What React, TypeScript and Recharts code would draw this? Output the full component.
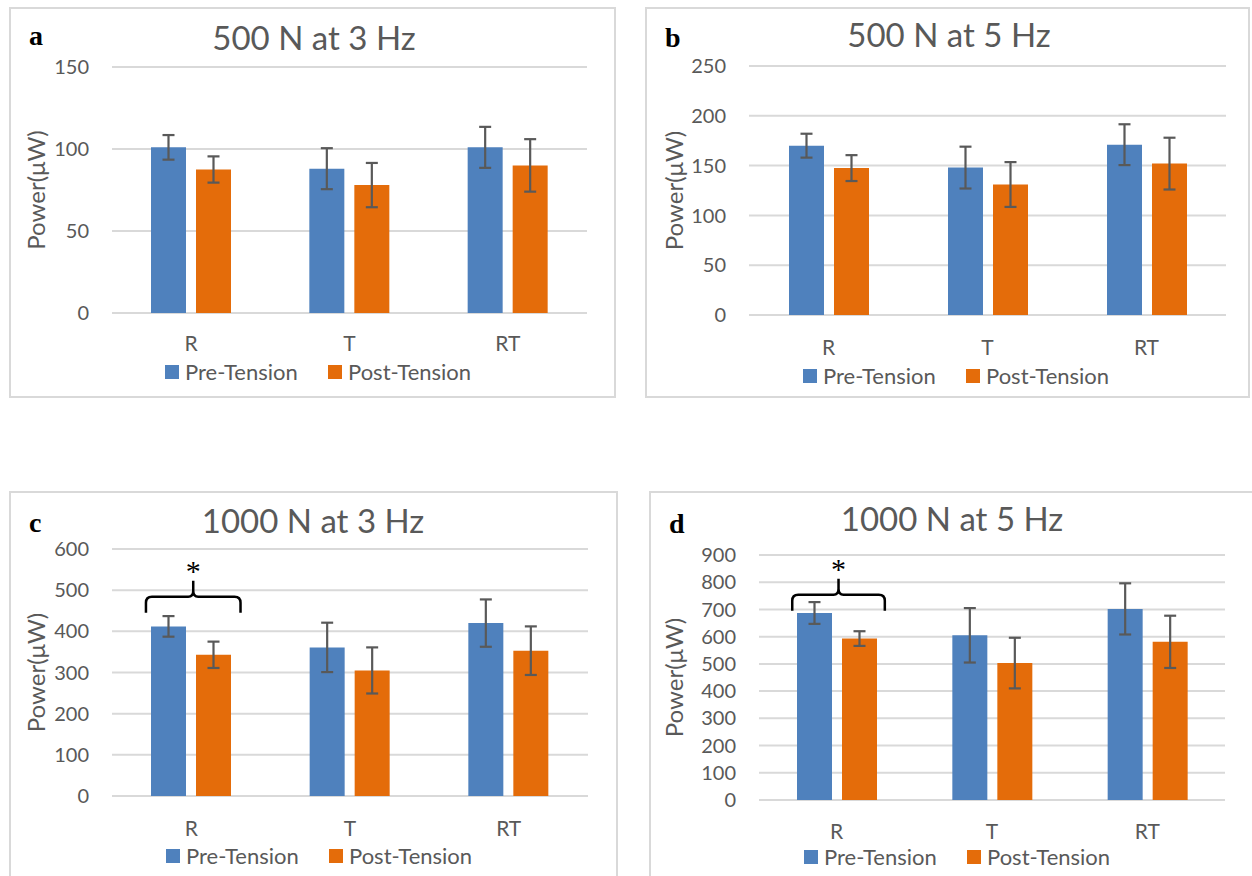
import React from "react";
import { BarChart, Bar, XAxis, YAxis, CartesianGrid, ErrorBar, ReferenceArea } from "recharts";

const categories = ["R", "T", "RT"];

// a: 500 N at 3 Hz
const preA = [101, 88, 101];
const preErrA = [7.5, 12.5, 12.5];
const postA = [87.5, 78, 90];
const postErrA = [8, 13.5, 16];
const ticksA = [0, 50, 100, 150];

// b: 500 N at 5 Hz
const preB = [170, 148, 171];
const preErrB = [12, 21, 20.5];
const postB = [147.5, 131, 152];
const postErrB = [13, 22.5, 26];
const ticksB = [0, 50, 100, 150, 200, 250];

// c: 1000 N at 3 Hz
const preC = [412, 361, 420];
const preErrC = [25, 60, 57.5];
const postC = [343, 305, 353];
const postErrC = [32, 56, 59];
const ticksC = [0, 100, 200, 300, 400, 500, 600];

// d: 1000 N at 5 Hz
const preD = [687, 605, 702];
const preErrD = [40, 100, 94];
const postD = [593, 503, 581];
const postErrD = [27, 93, 96];
const ticksD = [0, 100, 200, 300, 400, 500, 600, 700, 800, 900];

// significance bracket (R group), lower / upper in data units
const bracketC = [445, 484];
const bracketD = [695, 754];

const seriesNames = ["Pre-Tension", "Post-Tension"];

const BLUE = "#4f81bd";
const ORANGE = "#e46c0a";
const GREY = "#595959";
const GRID = "#d9d9d9";
const FONT = "Lato, 'Open Sans', sans-serif";

type Cfg = {
  letter: string;
  title: string;
  pre: number[]; preErr: number[]; post: number[]; postErr: number[];
  ticks: number[];
  frame: { x: number; y: number; w: number; h: number };
  plot: { l: number; r: number; t: number; b: number };
  titleX: number; titleY: number;
  letterX: number; letterY: number;
  ylabelX: number;
  xTickMargin: number;
  legendX: number; legendY: number;
  bracket?: number[];
};

const panels: Cfg[] = [
  {
    letter: "a", title: "500 N at 3 Hz",
    pre: preA, preErr: preErrA, post: postA, postErr: postErrA, ticks: ticksA,
    frame: { x: 9, y: 7, w: 607, h: 391 },
    plot: { l: 112, r: 587, t: 67, b: 313 },
    titleX: 314, titleY: 50, letterX: 29, letterY: 45, ylabelX: 35,
    xTickMargin: 23, legendX: 165, legendY: 372,
  },
  {
    letter: "b", title: "500 N at 5 Hz",
    pre: preB, preErr: preErrB, post: postB, postErr: postErrB, ticks: ticksB,
    frame: { x: 645, y: 7, w: 605, h: 391 },
    plot: { l: 749, r: 1226, t: 66, b: 315 },
    titleX: 949, titleY: 47, letterX: 665, letterY: 47, ylabelX: 673,
    xTickMargin: 25, legendX: 803, legendY: 376,
  },
  {
    letter: "c", title: "1000 N at 3 Hz",
    pre: preC, preErr: preErrC, post: postC, postErr: postErrC, ticks: ticksC,
    frame: { x: 9, y: 491, w: 609, h: 389 },
    plot: { l: 112, r: 588, t: 549, b: 796 },
    titleX: 313, titleY: 533, letterX: 29, letterY: 532, ylabelX: 35,
    xTickMargin: 25, legendX: 166, legendY: 856,
    bracket: bracketC,
  },
  {
    letter: "d", title: "1000 N at 5 Hz",
    pre: preD, preErr: preErrD, post: postD, postErr: postErrD, ticks: ticksD,
    frame: { x: 649, y: 491, w: 607, h: 389 },
    plot: { l: 759, r: 1225, t: 555, b: 800 },
    titleX: 952, titleY: 531, letterX: 669, letterY: 533, ylabelX: 673,
    xTickMargin: 24, legendX: 804, legendY: 857,
    bracket: bracketD,
  },
];

const Bracket = (props: any) => {
  const { x, y, width, height } = props;
  if (x == null || width == null) return null;
  const x1 = x + width * 0.214;
  const x2 = x + width * 0.81;
  const xm = (x1 + x2) / 2;
  const yt = y;
  const yb = y + height;
  const tip = yt - height;
  const r = 6;
  const d =
    `M${x1},${yb} L${x1},${yt + r} Q${x1},${yt} ${x1 + r},${yt} L${xm - 5},${yt} Q${xm},${yt} ${xm},${yt - 6} L${xm},${tip}` +
    ` M${xm},${yt - 6} Q${xm},${yt} ${xm + 5},${yt} L${x2 - r},${yt} Q${x2},${yt} ${x2},${yt + r} L${x2},${yb}`;
  return (
    <g>
      <path d={d} fill="none" stroke="#000" strokeWidth={2.5} />
      <text x={xm} y={tip} textAnchor="middle" fontSize={30} fontFamily="'Liberation Serif', serif" fill="#000">*</text>
    </g>
  );
};

function Panel({ cfg }: { cfg: Cfg }) {
  const { frame, plot } = cfg;
  const yAxisW = 70;
  const xAxisH = 30;
  const data = categories.map((c, i) => ({
    name: c,
    pre: cfg.pre[i],
    preErr: cfg.preErr[i],
    post: cfg.post[i],
    postErr: cfg.postErr[i],
  }));
  const margin = {
    left: plot.l - frame.x - yAxisW,
    right: frame.x + frame.w - plot.r,
    top: plot.t - frame.y,
    bottom: frame.y + frame.h - plot.b - xAxisH,
  };
  const top = cfg.ticks[cfg.ticks.length - 1];
  const fx = (v: number) => v - frame.x;
  const fy = (v: number) => v - frame.y;
  const legY = fy(cfg.legendY);
  const legX = fx(cfg.legendX);
  const midY = (plot.t + plot.b) / 2 - frame.y;
  return (
    <div style={{ position: "absolute", left: frame.x, top: frame.y, width: frame.w, height: frame.h, background: "#fff" }}>
      <div style={{ position: "absolute", inset: 0, border: `2px solid ${GRID}`, boxSizing: "border-box" }} />
      <div style={{ position: "absolute", left: 0, top: 0 }}>
        <BarChart width={frame.w} height={frame.h} data={data} margin={margin} barGap={10}>
          <CartesianGrid vertical={false} stroke={GRID} strokeWidth={2} />
          <XAxis
            dataKey="name"
            axisLine={false}
            tickLine={false}
            tickSize={0}
            tickMargin={cfg.xTickMargin}
            height={xAxisH}
            interval={0}
            tick={{ fontSize: 21, fill: GREY, fontFamily: FONT }}
          />
          <YAxis
            type="number"
            domain={[0, top]}
            ticks={cfg.ticks}
            interval={0}
            width={yAxisW}
            axisLine={false}
            tickLine={false}
            tickSize={0}
            tickMargin={23}
            tick={{ fontSize: 20, fill: GREY, fontFamily: FONT }}
          />
          <Bar dataKey="pre" fill={BLUE} barSize={35} isAnimationActive={false}>
            <ErrorBar dataKey="preErr" width={6} stroke={GREY} strokeWidth={2.2} isAnimationActive={false} />
          </Bar>
          <Bar dataKey="post" fill={ORANGE} barSize={35} isAnimationActive={false}>
            <ErrorBar dataKey="postErr" width={6} stroke={GREY} strokeWidth={2.2} isAnimationActive={false} />
          </Bar>
          {cfg.bracket && (
            <ReferenceArea
              x1="R"
              x2="R"
              y1={cfg.bracket[0]}
              y2={cfg.bracket[1]}
              ifOverflow="visible"
              shape={(p: any) => <Bracket {...p} />}
            />
          )}
        </BarChart>
      </div>
      <svg width={frame.w} height={frame.h} style={{ position: "absolute", left: 0, top: 0, pointerEvents: "none" }}>
        <text x={fx(cfg.titleX)} y={fy(cfg.titleY)} textAnchor="middle" fontSize={33} fill={GREY} fontFamily={FONT}>
          {cfg.title}
        </text>
        <text x={fx(cfg.letterX)} y={fy(cfg.letterY)} fontSize={28} fontWeight="bold" fill="#000" fontFamily="'Liberation Serif', 'Times New Roman', serif">
          {cfg.letter}
        </text>
        <text
          x={fx(cfg.ylabelX)}
          y={midY}
          transform={`rotate(-90 ${fx(cfg.ylabelX)} ${midY})`}
          textAnchor="middle"
          dominantBaseline="central"
          fontSize={24}
          fill={GREY}
          fontFamily={FONT}
        >
          Power(μW)
        </text>
        <rect x={legX} y={legY - 7} width={14} height={14} fill={BLUE} />
        <text x={legX + 20} y={legY + 8} fontSize={22} fill={GREY} fontFamily={FONT}>{seriesNames[0]}</text>
        <rect x={legX + 163} y={legY - 7} width={14} height={14} fill={ORANGE} />
        <text x={legX + 183} y={legY + 8} fontSize={22} fill={GREY} fontFamily={FONT}>{seriesNames[1]}</text>
      </svg>
    </div>
  );
}

export default function App() {
  return (
    <div style={{ position: "absolute", left: 0, top: 0, width: 1252, height: 876, overflow: "hidden", background: "#fff" }}>
      {panels.map((p) => (
        <Panel key={p.letter} cfg={p} />
      ))}
    </div>
  );
}
